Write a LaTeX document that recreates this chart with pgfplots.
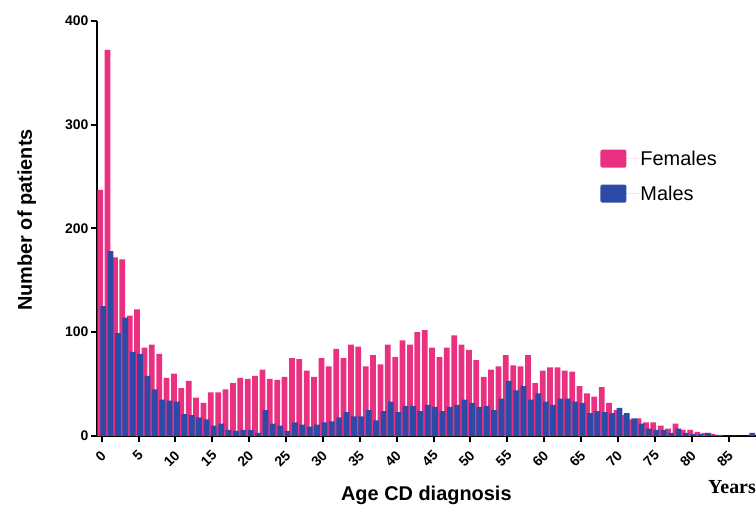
\documentclass[border=0pt]{standalone}
\usepackage{fontspec}
\setmainfont{Liberation Sans}
\newfontfamily\serifyears{Liberation Serif}
\usepackage{pgfplots}
\pgfplotsset{compat=1.18}
\usepackage{pgfplotstable}
\definecolor{fem}{RGB}{234,48,128}
\definecolor{mal}{RGB}{44,74,166}

\pgfplotstableread{
age f m
0 237 125
1 372 178
2 172 99
3 170 114
4 116 81
5 122 79
6 85 58
7 88 45
8 79 35
9 56 34
10 60 33
11 46 21
12 53 20
13 37 18
14 32 16
15 42 10
16 42 12
17 45 6
18 51 5
19 56 6
20 55 6
21 58 3
22 64 25
23 55 12
24 54 10
25 57 5
26 75 13
27 74 11
28 63 9
29 57 11
30 75 13
31 67 14
32 84 18
33 75 23
34 88 19
35 86 19
36 67 25
37 78 15
38 69 24
39 88 33
40 76 23
41 92 29
42 88 29
43 100 24
44 102 30
45 85 28
46 76 24
47 85 28
48 97 30
49 88 35
50 83 32
51 73 28
52 57 29
53 64 25
54 67 36
55 78 53
56 68 44
57 67 48
58 78 35
59 51 41
60 63 33
61 66 30
62 66 36
63 63 36
64 62 33
65 48 32
66 41 22
67 38 24
68 47 23
69 32 22
70 25 27
71 20 22
72 16 17
73 17 12
74 13 7
75 13 6
76 10 6
77 7 3
78 12 7
79 6 3
80 6 2
81 4 2
82 3 3
83 2 1
84 1 0
85 0 0
86 0 0
87 0 0
88 0 3
}\datatable

\begin{document}
\begin{tikzpicture}
\begin{axis}[
  name=ax,
  scale only axis,
  width=659.3bp, height=415.3bp,
  at={(0,0)}, anchor=south west,
  xmin=-0.68, xmax=88.72, ymin=0, ymax=400,
  axis lines=left,
  axis line style={-, line width=2bp},
  tick align=outside,
  major tick length=6bp,
  every tick/.style={black, line width=2bp},
  xtick={0,5,...,85},
  ytick={0,100,...,400},
  /pgf/number format/assume math mode=true,
  tick label style={font=\bfseries\fontsize{14}{14}\selectfont},
  xticklabel style={xshift=2bp, yshift=-11bp, rotate=45, anchor=east, inner sep=0bp},
  yticklabel style={inner sep=2bp},
  clip=true,
  xlabel={Age CD diagnosis},
  ylabel={Number of patients},
  every axis x label/.style={at={(axis description cs:0.5,0)}, yshift=-59bp, anchor=center, font=\bfseries\fontsize{20}{20}\selectfont},
  every axis y label/.style={at={(axis description cs:0,0.52)}, xshift=-70bp, rotate=90, anchor=center, font=\bfseries\fontsize{20}{20}\selectfont},
  legend style={at={(axis cs:67.6,276)}, anchor=north west, draw=none, fill=none,
    font=\fontsize{20}{20}\selectfont, inner sep=0pt, row sep=17bp,
    nodes={inner sep=1bp}},
  legend cell align=left,
]
\addplot[ybar, bar width=0.78, bar shift=-0.2, fill=fem, draw=none,
  legend image code/.code={\fill[fem, rounded corners=2bp] (0bp,-9bp) rectangle (26bp,9bp); \path (26bp,0) -- (39bp,0);}]
  table[x=age, y=f] {\datatable};
\addlegendentry{Females}
\addplot[ybar, bar width=0.78, bar shift=0.2, fill=mal, draw=none,
  legend image code/.code={\fill[mal, rounded corners=2bp] (0bp,-9bp) rectangle (26bp,9bp); \path (26bp,0) -- (39bp,0);}]
  table[x=age, y=m] {\datatable};
\addlegendentry{Males}
\end{axis}
\node[font=\serifyears\bfseries\fontsize{20}{20}\selectfont, anchor=east, inner sep=0pt]
  at ([yshift=-51bp]ax.south east) {Years};
\pgfresetboundingbox
\path[use as bounding box] ([xshift=-96.7bp,yshift=-72bp]ax.south west) rectangle ([yshift=20.7bp]ax.north east);
\end{tikzpicture}
\end{document}
